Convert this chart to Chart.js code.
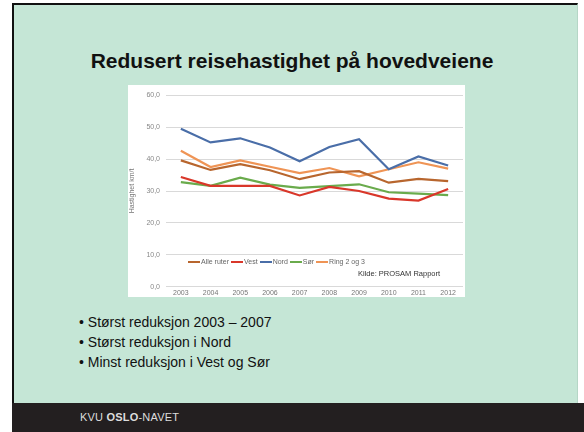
<!DOCTYPE html>
<html>
<head>
<meta charset="utf-8">
<script src="https://cdn.jsdelivr.net/npm/chart.js@4"></script>
<style>
  html, body { margin: 0; padding: 0; background: #fff; }
  body { width: 584px; height: 432px; position: relative; overflow: hidden; font-family: "Liberation Sans", Arial, sans-serif; }
  #slide { position: absolute; left: 12px; top: 3px; width: 566px; height: 429px; background: #c5e6d6; border-left: 2px solid #111; border-top: 2px solid #111; border-right: 1px solid #b5d6c6; box-sizing: border-box; }
  #title { position: absolute; left: 0; top: 49px; width: 584px; text-align: center; font-size: 21px; font-weight: bold; color: #111; }
  #box { position: absolute; left: 128px; top: 85px; width: 337px; height: 212px; background: #fff; }
  #legend { position: absolute; left: 188px; top: 258px; display: flex; align-items: center; font-size: 7px; color: #666; }
  #legend span.item { display: flex; align-items: center; margin-right: 2px; }
  #legend span.line { display: inline-block; width: 12px; height: 2px; margin-right: 1px; }
  #source { position: absolute; left: 358px; top: 269px; font-size: 7.5px; color: #333; }
  #bullets { position: absolute; left: 79px; top: 312px; font-size: 14px; color: #111; line-height: 20px; }
  #footer { position: absolute; left: 12px; top: 403px; width: 572px; height: 29px; background: #231f20; }
  #footer div { position: absolute; left: 68px; top: 8px; font-size: 11px; color: #ddd; letter-spacing: 0.2px; }
</style>
</head>
<body>
<div id="slide"></div>
<div id="title">Redusert reisehastighet på hovedveiene</div>
<div id="box"><canvas id="chart" width="337" height="212"></canvas></div>
<div id="legend"></div>
<div id="source">Kilde: PROSAM Rapport</div>
<div id="bullets">
  <div>• Størst reduksjon 2003 – 2007</div>
  <div>• Størst reduksjon i Nord</div>
  <div>• Minst reduksjon i Vest og Sør</div>
</div>
<div id="footer"><div>KVU <b>OSLO</b>-NAVET</div></div>
<script>
const years = ["2003", "2004", "2005", "2006", "2007", "2008", "2009", "2010", "2011", "2012"];
const seriesNames = ["Alle ruter", "Vest", "Nord", "Sør", "Ring 2 og 3"];
const seriesColors = ["#b8662e", "#d9372a", "#4a6ea8", "#6aab4c", "#ef9455"];
const alleRuter = [39.6, 36.6, 38.4, 36.5, 33.7, 35.8, 36.2, 32.6, 33.8, 33.1];
const vest = [34.4, 31.6, 31.6, 31.6, 28.6, 31.3, 30.0, 27.6, 27.0, 30.6];
const nord = [49.5, 45.2, 46.5, 43.6, 39.3, 43.8, 46.2, 36.8, 40.8, 38.0];
const sor = [32.8, 31.6, 34.2, 32.0, 31.0, 31.5, 32.1, 29.6, 29.2, 28.7];
const ring = [42.6, 37.5, 39.6, 37.6, 35.6, 37.2, 34.6, 36.8, 39.0, 37.0];
const yTicks = [0, 10, 20, 30, 40, 50, 60];

const seriesData = [alleRuter, vest, nord, sor, ring];

const legend = document.getElementById("legend");
seriesNames.forEach((name, i) => {
    const item = document.createElement("span");
    item.className = "item";
    item.innerHTML = '<span class="line" style="background:' + seriesColors[i] + '"></span>' + name;
    legend.appendChild(item);
});

new Chart(document.getElementById("chart"), {
    type: "line",
    data: {
        labels: years,
        datasets: seriesNames.map((name, i) => ({
            label: name,
            data: seriesData[i],
            borderColor: seriesColors[i],
            backgroundColor: seriesColors[i],
            borderWidth: 2.2,
            pointRadius: 0,
            tension: 0,
        })),
    },
    options: {
        responsive: false,
        animation: false,
        layout: { padding: { top: 8, right: 2, left: 0, bottom: 0 } },
        plugins: { legend: { display: false }, tooltip: { enabled: false } },
        scales: {
            x: {
                offset: true,
                grid: { display: false, drawTicks: false },
                border: { display: false },
                ticks: { color: "#777", font: { size: 7, family: "Liberation Sans" }, padding: 2, maxRotation: 0, autoSkip: false },
                afterFit: (s) => { s.height = 10; },
            },
            y: {
                min: 0,
                max: 60,
                afterBuildTicks: (s) => { s.ticks = yTicks.map(v => ({ value: v })); },
                grid: { color: "#d9d9d9", drawTicks: false },
                border: { display: false },
                ticks: {
                    color: "#888",
                    font: { size: 7, family: "Liberation Sans" },
                    padding: 6,
                    callback: (v) => v.toFixed(1).replace(".", ","),
                },
                title: { display: true, text: "Hastighet km/t", color: "#777", font: { size: 7, family: "Liberation Sans" }, padding: 0 },
                afterFit: (s) => { s.width = 38; },
            },
        },
    },
});
</script>
</body>
</html>
